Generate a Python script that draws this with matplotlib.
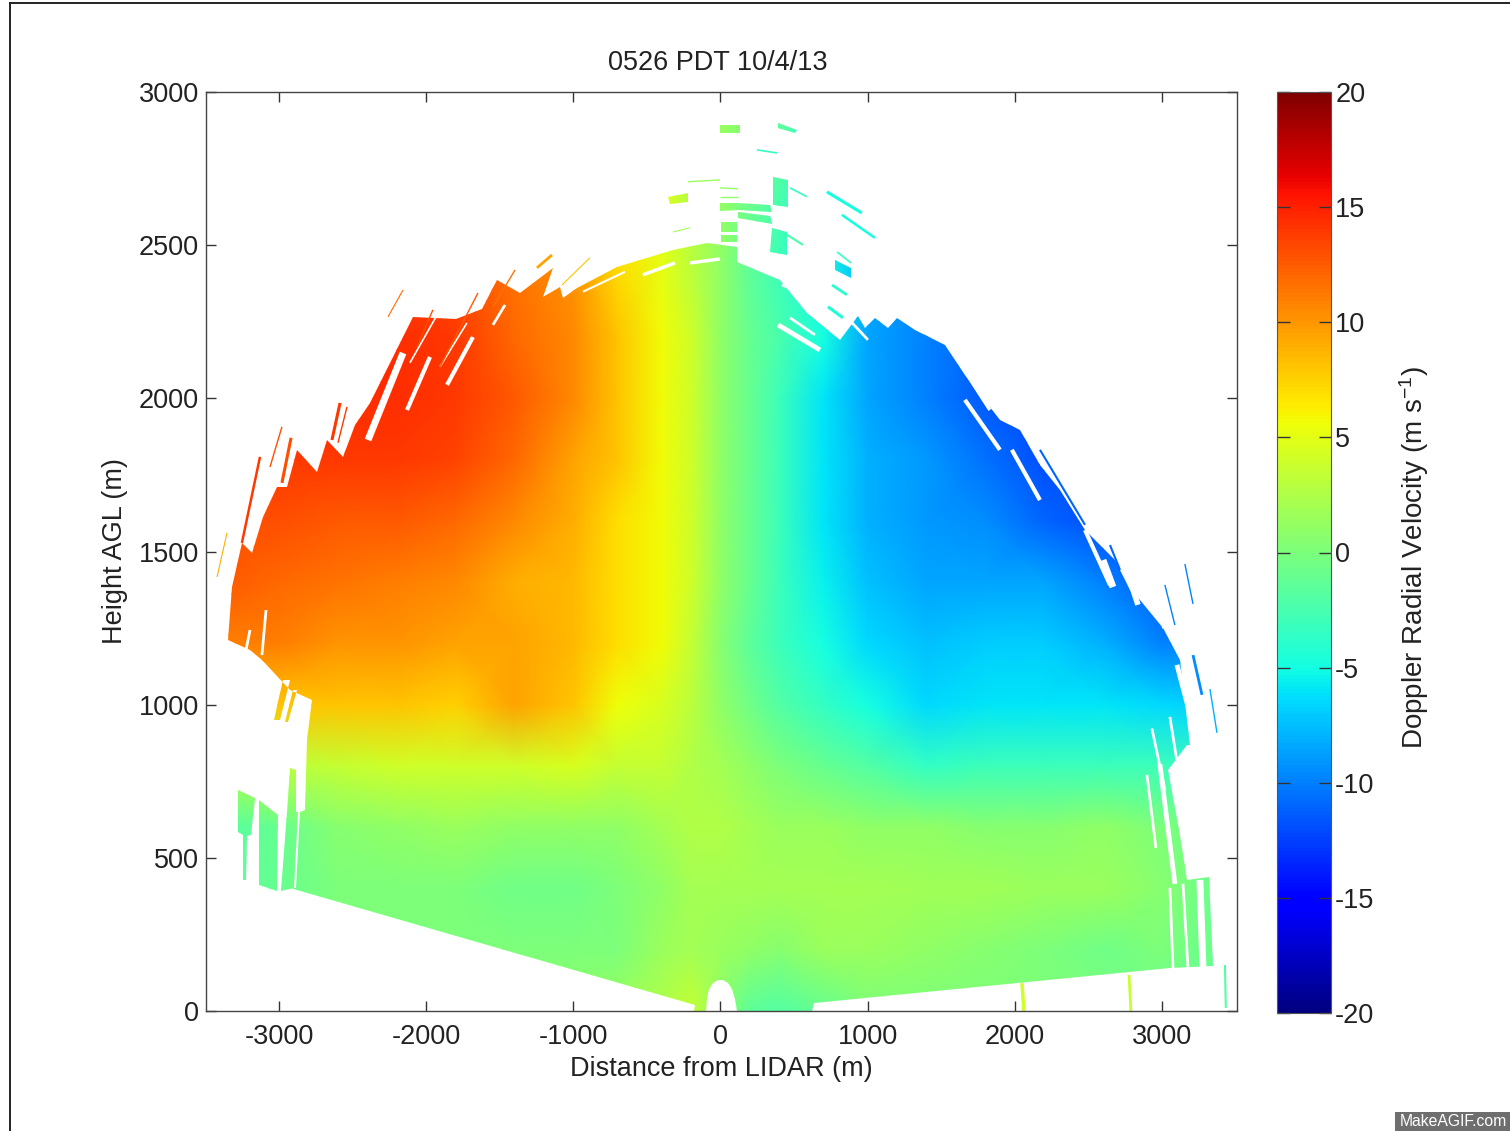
"""Doppler lidar radial velocity scan, 0526 PDT 10/4/13."""
import numpy as np
import matplotlib

matplotlib.use("Agg")
import matplotlib.pyplot as plt
from matplotlib.cm import ScalarMappable
from matplotlib.colors import Normalize
from matplotlib.lines import Line2D
from matplotlib.patches import Rectangle
from matplotlib.path import Path

# velocity field (m/s), rows = height, cols = distance
dist = [-3400, -3000, -2600, -2200, -1800, -1400, -1000, -700, -400, -200, 0,
        200, 400, 700, 1000, 1400, 1800, 2200, 2600, 3000, 3400]
height = [0, 200, 400, 600, 800, 1000, 1200, 1400, 1600, 1800, 2000, 2200, 2450, 2900]
velocity = [
    [0.5, 0.5, 0.5, 0.5, 0.5, 0.5, 1, 1.5, 2.5, 3.5, 1, -1.5, -2, -1, 0, 0, 0, 0, 0, -1, -1.5],
    [0, 0, 0, 0, 0, 0, 0, 0, 1.5, 2, 1.5, 1, 0.5, 1.5, 1.5, 1, 0.5, 0, -0.5, 0, -1],
    [-1.5, -1, 0, 0, 0, -0.5, -0.5, 0, 1, 2, 2, 2, 2, 2, 2, 1.8, 1.8, 1.5, 1.5, 0.5, -1],
    [-2, -1, 0.5, 1, 1.5, 1, 1, 1, 2, 2.5, 2.5, 2, 1.5, 1.5, 1, 1, 0.5, 0.5, 1, 0, -1],
    [3, 3, 3.5, 4, 4, 4, 4.5, 3.5, 3.5, 2.5, 2, 1, 0, -1, -2, -3.5, -3, -3, -3, -3, -3],
    [8, 8, 8, 8, 7.5, 9.5, 8, 5.5, 4.5, 3, 1, -0.5, -2, -3.5, -5, -6.5, -6, -6, -6, -6.5, -7],
    [11, 11, 10, 10, 9.5, 9.5, 8.5, 7, 5.7, 3.5, 0.5, -1.5, -3, -5, -6.5, -7.5, -7, -7, -8, -10, -10],
    [12.5, 12, 11.5, 11, 10.5, 9, 8.5, 7, 5.7, 4, 1, -1, -3, -5.5, -7.5, -8.5, -8.5, -8.5, -10, -11.5, -12],
    [13, 13, 12.5, 12.5, 12, 10.5, 9, 7, 5.7, 4, 1, -1, -3, -6, -8, -9, -9.5, -11, -12, -12, -12],
    [14, 14, 14, 14, 13.5, 12, 9.5, 8, 5.7, 4, 1, -1, -3, -6, -8, -9, -10.5, -12, -12, -12, -12],
    [14.5, 14.5, 14.5, 14.5, 14, 12.5, 10.5, 8, 5.7, 4, 1, -1, -3, -6, -8.5, -10, -11.5, -12, -12, -12, -12],
    [15, 15, 15, 14.5, 14, 12, 10.5, 8, 5.7, 4, 1, -1, -2.5, -5, -8.5, -10, -11, -11, -11, -11, -11],
    [14, 14, 14, 14, 13, 11.5, 10, 7, 5, 3, 1, -1.5, -3, -5, -8, -10, -11, -11, -11, -11, -11],
    [13, 13, 13, 13, 12, 11, 10, 7, 5, 2, 1.5, 0, -1.5, -4.5, -6, -10, -11, -11, -11, -11, -11],
]

# edge of the scan, (distance, height)
scan_edge = [
    (-2925, 402), (-173, 20), (-180, 0), (-99, 0), (-92, 40), (-75, 72), (-50, 92), (-20, 100),
    (15, 100), (50, 92), (80, 72), (100, 40), (112, 0), (622, 0), (635, 26), (3054, 140),
    (3346, 147), (3319, 437), (3170, 428), (3122, 575), (3041, 787), (3170, 868), (3190, 868),
    (3122, 1146), (3007, 1250), (2850, 1342), (2782, 1375), (2680, 1472), (2477, 1570),
    (2307, 1701), (2171, 1783), (2035, 1897), (1899, 1930), (1661, 2076), (1525, 2174),
    (1321, 2223), (1198, 2263), (1138, 2230), (1049, 2263), (981, 2230), (934, 2269),
    (812, 2191), (588, 2279), (404, 2387), (112, 2446), (112, 2495), (-93, 2508), (-323, 2485),
    (-547, 2452), (-703, 2429), (-975, 2361), (-1070, 2328), (-1091, 2364), (-1206, 2331),
    (-1138, 2426), (-1362, 2344), (-1519, 2387), (-1620, 2290), (-1800, 2260), (-2090, 2266),
    (-2382, 1985), (-2484, 1913), (-2565, 1809), (-2674, 1864), (-2742, 1760), (-2878, 1832),
    (-2946, 1711), (-3013, 1711), (-3109, 1613), (-3184, 1495), (-3252, 1528), (-3320, 1384),
    (-3347, 1211), (-3197, 1179), (-3116, 1146), (-2925, 1048), (-2776, 1015), (-2810, 885),
    (-2823, 656), (-2857, 650), (-2884, 402),
]

# detached patches of return above and left of the main scan
scan_patches = [
    [(-3278, 721), (-3163, 695), (-3190, 575), (-3217, 572), (-3224, 428), (-3244, 428), (-3244, 575), (-3278, 585)],
    [(-3136, 689), (-3006, 640), (-3013, 392), (-3136, 411)],
    [(-2946, 650), (-2925, 794), (-2884, 787), (-2884, 650), (-2870, 650), (-2900, 402), (-2986, 392)],
    [(-2973, 1081), (-2925, 1081), (-2993, 950), (-3034, 950)],
    [(-2905, 1048), (-2878, 1048), (-2940, 943), (-2960, 943)],
    [(-3, 2893), (133, 2893), (133, 2867), (-3, 2867)],
    [(391, 2899), (520, 2876), (506, 2867), (391, 2883)],
    [(357, 2723), (459, 2713), (459, 2625), (357, 2632)],
    [(-357, 2658), (-221, 2671), (-221, 2641), (-343, 2635)],
    [(-3, 2638), (119, 2638), (336, 2632), (350, 2609), (119, 2615), (-3, 2612)],
    [(119, 2609), (336, 2596), (350, 2570), (119, 2589)],
    [(3, 2576), (112, 2576), (112, 2543), (3, 2543)],
    [(3, 2534), (112, 2534), (112, 2511), (3, 2511)],
    [(350, 2556), (452, 2543), (452, 2468), (336, 2478)],
    [(778, 2452), (887, 2426), (887, 2393), (778, 2420)],
]

# thin streaks of return: x0, y0, x1, y1, velocity, width
thin_returns = [
    (248, 2811, 384, 2801, -3.5, 1.2), (472, 2687, 588, 2658, -3.5, 1.2),
    (723, 2674, 961, 2605, -5, 2.2), (825, 2599, 1049, 2524, -5, 1.8),
    (-221, 2707, -3, 2713, 1.5, 1), (-3, 2687, 119, 2684, 1, 1),
    (-3, 2658, 119, 2658, 1, 1), (452, 2534, 560, 2501, -2.5, 1.5),
    (792, 2478, 887, 2442, -3.5, 1.2), (758, 2370, 859, 2338, -4, 2),
    (730, 2299, 832, 2263, -4.5, 2.2), (-323, 2543, -207, 2557, 2, 0.8),
    (-1247, 2426, -1145, 2468, 9.5, 2), (-1077, 2370, -887, 2459, 8, 0.8),
    (-2259, 2266, -2157, 2354, 12, 0.8), (-3421, 1417, -3353, 1561, 9, 0.8),
    (-3252, 1528, -3129, 1809, 14, 1.8), (-3061, 1776, -2980, 1907, 13, 1),
    (-2980, 1724, -2918, 1871, 13, 2.2), (-2640, 1864, -2585, 1985, 14, 2.2),
    (-2599, 1855, -2538, 1972, 14, 1), (3211, 1162, 3272, 1032, -9.5, 2),
    (3326, 1051, 3374, 908, -8, 1), (3428, 150, 3434, 10, -2, 1.5),
    (2049, 91, 2062, 0, 4, 2.5), (2776, 118, 2789, 0, 3.5, 2),
    (2647, 1521, 2715, 1440, -11, 1.5), (3020, 1391, 3088, 1260, -10, 1),
    (3156, 1459, 3211, 1329, -10, 1), (2171, 1832, 2477, 1587, -11, 1.5),
    (-1954, 2289, -2062, 2168, 13, 1), (-1648, 2344, -1906, 2103, 12.5, 1),
    (-1396, 2419, -1546, 2299, 11.5, 1),
]

# missing beams inside the scan: x0, y0, x1, y1, width
gaps = [
    (-2395, 1864, -2157, 2148, 5), (-2130, 1962, -1974, 2135, 3), (-1858, 2044, -1682, 2200, 3),
    (-2110, 2116, -1906, 2289, 1.2), (-1906, 2103, -1723, 2246, 1.2), (-1546, 2240, -1464, 2305, 2),
    (-934, 2348, -649, 2413, 1.5), (-527, 2403, -309, 2442, 2.5), (-207, 2442, -3, 2455, 2.5),
    (391, 2240, 676, 2158, 3.5), (472, 2263, 642, 2207, 2), (418, 2370, 540, 2348, 2),
    (812, 2289, 1002, 2191, 2), (1546, 2174, 1831, 1962, 2.5), (1661, 1995, 1899, 1832, 3),
    (1980, 1832, 2171, 1668, 3), (2477, 1570, 2647, 1391, 3), (2599, 1472, 2667, 1384, 5),
    (2769, 1424, 2837, 1326, 4), (2952, 1407, 3020, 1250, 4), (3102, 1130, 3183, 983, 3.5),
    (2932, 922, 3020, 722, 2), (3054, 960, 3136, 712, 2), (2898, 771, 2959, 532, 2),
    (2986, 806, 3088, 415, 3.5), (3054, 402, 3075, 140, 2), (3143, 415, 3177, 140, 2),
    (3258, 428, 3279, 140, 5), (-3197, 1244, -3231, 1162, 2), (-3088, 1309, -3116, 1162, 2),
]

x_ticks = [-3000, -2000, -1000, 0, 1000, 2000, 3000]
y_ticks = [0, 500, 1000, 1500, 2000, 2500, 3000]
cbar_ticks = [-20, -15, -10, -5, 0, 5, 10, 15, 20]

W, H = 1510, 1131
plt.rcParams["font.family"] = ["Liberation Sans", "DejaVu Sans"]
plt.rcParams["mathtext.default"] = "regular"
plt.rcParams["axes.unicode_minus"] = False
plt.rcParams["text.color"] = "#222222"
plt.rcParams["axes.labelcolor"] = "#222222"
plt.rcParams["xtick.labelcolor"] = "#222222"
plt.rcParams["ytick.labelcolor"] = "#222222"

cmap = plt.get_cmap("jet")
norm = Normalize(-20, 20)

fig = plt.figure(figsize=(W / 100, H / 100), dpi=100)
ax = fig.add_axes([206 / W, 1 - 1011 / H, 1031 / W, 919 / H])

mesh = ax.pcolormesh(dist, height, np.array(velocity), cmap=cmap, norm=norm,
                     shading="gouraud", rasterized=True)

# clip the field down to where the lidar had a return
verts, codes = [], []
for poly in [scan_edge] + scan_patches:
    verts += list(poly) + [poly[0]]
    codes += [Path.MOVETO] + [Path.LINETO] * (len(poly) - 1) + [Path.CLOSEPOLY]
mesh.set_clip_path(Path(verts, codes), ax.transData)

for x0, y0, x1, y1, v, lw in thin_returns:
    ax.plot([x0, x1], [y0, y1], color=cmap(norm(v)), lw=lw, solid_capstyle="butt", zorder=3)
for x0, y0, x1, y1, lw in gaps:
    ax.plot([x0, x1], [y0, y1], color="white", lw=lw, solid_capstyle="butt", zorder=2)

ax.set_xlim(-3496, 3510)
ax.set_ylim(0, 3000)
ax.set_xticks(x_ticks)
ax.set_yticks(y_ticks)
ax.tick_params(direction="in", top=True, right=True, length=7, width=1, color="#333333",
               labelsize=19.5)
ax.tick_params(axis="x", pad=9)
ax.tick_params(axis="y", pad=5)
for side in ax.spines.values():
    side.set_linewidth(1)
    side.set_color("#444444")
    side.set_zorder(5)
ax.set_title("0526 PDT 10/4/13", fontsize=19.5, x=0.4965, pad=16)
ax.set_xlabel("Distance from LIDAR (m)", fontsize=19.5, labelpad=5)
ax.set_ylabel("Height AGL (m)", fontsize=19.5, labelpad=8)

cax = fig.add_axes([1277 / W, 1 - 1013 / H, 54 / W, 921 / H])
cb = fig.colorbar(ScalarMappable(norm=norm, cmap=cmap), cax=cax, ticks=cbar_ticks)
cb.ax.tick_params(direction="in", left=True, right=True, length=9, width=1, color="#333333",
                  labelsize=19.5, pad=3)
cb.outline.set_linewidth(0.8)
cb.outline.set_edgecolor("#555555")
cb.set_ticklabels([str(t) for t in cbar_ticks])
cb.set_label("Doppler Radial Velocity (m s$^{-1}$)", fontsize=20, labelpad=16, y=0.495)

# scan frame of the source image and the watermark
fig.add_artist(Line2D([10 / W, 10 / W], [0, 1 - 3 / H], color="#222222", lw=1.4))
fig.add_artist(Line2D([10 / W, 1], [1 - 3 / H, 1 - 3 / H], color="#222222", lw=1.4))
fig.add_artist(Rectangle((1395 / W, 0), 115 / W, 19 / H, transform=fig.transFigure,
                         facecolor="#6e6e6e", edgecolor="none"))
fig.text(1453 / W, 9 / H, "MakeAGIF.com", color="white", fontsize=11.3, ha="center", va="center")

fig.savefig("out.png", dpi=100)
plt.close(fig)
